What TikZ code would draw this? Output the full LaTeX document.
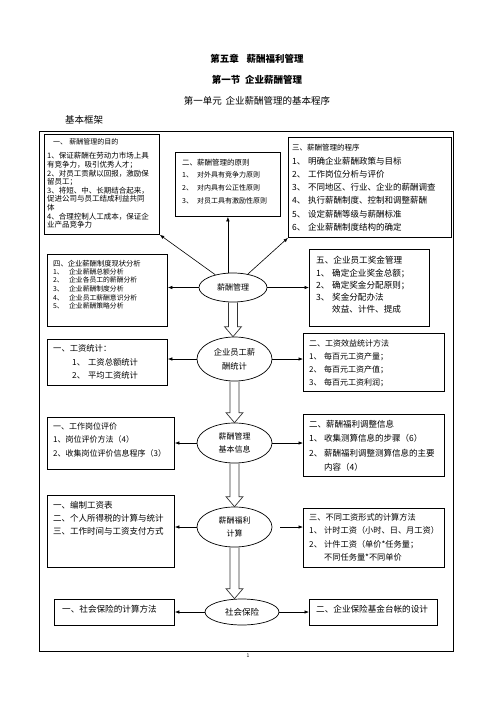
\documentclass[tikz,border=0pt]{standalone}
\usepackage{fontspec}
\setmainfont{Noto Sans CJK SC}
\usetikzlibrary{shapes.geometric,arrows.meta,calc}
\newcommand\fz[2]{\fontsize{#1}{#2}\selectfont}
\newcommand\nm[1]{\makebox[15pt][l]{#1}}
\newcommand\nn[1]{\makebox[16pt][l]{#1}}
\newcommand\harrow[2]{%
  \draw[hollow] ($(#1.south)+(-4.5,0)$) -- ($(#1.south |- #2.north)+(-4.5,-10)$)
    -- ($(#1.south |- #2.north)+(-8.5,-10)$) -- (#1.south |- #2.north)
    -- ($(#1.south |- #2.north)+(8.5,-10)$) -- ($(#1.south |- #2.north)+(4.5,-10)$)
    -- ($(#1.south)+(4.5,0)$);}
\begin{document}
\begin{tikzpicture}[x=1pt,y=-1pt,
  box/.style={draw, line width=0.8pt, rectangle, inner sep=0, anchor=north west},
  ell/.style={draw, line width=0.7pt, ellipse, inner sep=0, align=center},
  txt/.style={inner sep=0, anchor=north west, align=left},
  arr/.style={-{Latex[length=4.5pt,width=3.5pt]}, line width=0.6pt},
  hollow/.style={line width=0.7pt, draw=black!80}]
\useasboundingbox (0,0) rectangle (496,702);

% headings
\node[inner sep=0, font=\fz{9.5}{11}\bfseries] (h1) at (257,59) {第五章\hspace{0.8em}薪酬福利管理};
\node[inner sep=0, font=\fz{9.5}{11}\bfseries] (h2) at (257,80) {第一节\hspace{0.5em}企业薪酬管理};
\node[inner sep=0, font=\fz{9.5}{11}] (h3) at (257,101) {第一单元\hspace{0.4em}企业薪酬管理的基本程序};
\node[inner sep=0, anchor=west, font=\fz{9.5}{11}] (h4) at (65,120) {基本框架};

% outer frame
\node[box, minimum width=414, minimum height=520] (frame) at (39,131) {};

% top row boxes
\node[box, minimum width=115, minimum height=100] (b1) at (44,134) {};
\node[txt, font=\fz{7}{8.6}] (t1a) at (53,138.8) {一、\hspace{0.3em}薪酬管理的目的};
\node[txt, font=\fz{7.5}{8.6}] (t1b) at (47,152.3) {1、保证薪酬在劳动力市场上具\\有竞争力，吸引优秀人才；\\2、对员工贡献以回报，激励保\\留员工；\\3、将短、中、长期结合起来，\\促进公司与员工结成利益共同\\体\\4、合理控制人工成本，保证企\\业产品竞争力};

\node[box, minimum width=105, minimum height=64] (b2) at (175,152) {};
\node[txt, font=\fz{7.5}{13}] (t2a) at (182,158.6) {二、薪酬管理的原则};
\node[txt, font=\fz{7}{13}] (t2b) at (182,170.9) {\nm{1、}对外具有竞争力原则\\\nm{2、}对内具有公正性原则\\\nm{3、}对员工具有激励性原则};

\node[box, minimum width=163, minimum height=100] (b3) at (288,137) {};
\node[txt, font=\fz{7.5}{13}] (t3a) at (292,143.6) {三、薪酬管理的程序};
\node[txt, font=\fz{8.5}{13.1}] (t3b) at (292,157.2) {\nn{1、}明确企业薪酬政策与目标\\\nn{2、}工作岗位分析与评价\\\nn{3、}不同地区、行业、企业的薪酬调查\\\nn{4、}执行薪酬制度、控制和调整薪酬\\\nn{5、}设定薪酬等级与薪酬标准\\\nn{6、}企业薪酬制度结构的确定};

\node[box, minimum width=120, minimum height=72] (b4) at (47,254) {};
\node[txt, font=\fz{7.3}{8.6}] (t4a) at (53,259.7) {四、企业薪酬制度现状分析};
\node[txt, font=\fz{6.8}{8.6}] (t4b) at (53,268.3) {\nn{1、}企业薪酬总额分析\\\nn{2、}企业各员工的薪酬分析\\\nn{3、}企业薪酬制度分析\\\nn{4、}企业员工薪酬意识分析\\\nn{5、}企业薪酬策略分析};

\node[box, minimum width=120, minimum height=77] (b5) at (309,249) {};
\node[txt, font=\fz{8.6}{12.3}] (t5) at (316,256.2) {五、企业员工奖金管理\\\nn{1、}确定企业奖金总额；\\\nn{2、}确定奖金分配原则；\\\nn{3、}奖金分配办法\\\hspace*{16pt}效益、计件、提成};

\node[ell, minimum width=68, minimum height=29, font=\fz{8}{10}] (e1) at (233,287.5) {薪酬管理};

% row 2
\node[ell, minimum width=75, minimum height=44, font=\fz{8.3}{14}] (e2) at (234.5,359) {企业员工薪\\酬统计};
\node[box, minimum width=120, minimum height=46] (lb2) at (47,339) {};
\node[txt, font=\fz{8.3}{13.5}] (lt2) at (53,344.3) {一、工资统计：\\\hspace*{19pt}\nn{1、}工资总额统计\\\hspace*{19pt}\nn{2、}平均工资统计};
\node[box, minimum width=141, minimum height=58] (rb2) at (303,333) {};
\node[txt, font=\fz{8}{13}] (rt2) at (309,339.4) {二、工资效益统计方法\\\nm{1、}每百元工资产量；\\\nm{2、}每百元工资产值；\\\nm{3、}每百元工资利润；};

% row 3
\node[ell, minimum width=75, minimum height=40, font=\fz{8}{12.5}] (e3) at (234.5,443) {薪酬管理\\基本信息};
\node[box, minimum width=127, minimum height=52] (lb3) at (47,417) {};
\node[txt, font=\fz{8}{13.5}] (lt3) at (53,422.4) {一、工作岗位评价\\1、岗位评价方法（4）\\2、收集岗位评价信息程序（3）};
\node[box, minimum width=141, minimum height=62] (rb3) at (303,414) {};
\node[txt, font=\fz{8.5}{14.3}] (rt3) at (309,420.2) {二、薪酬福利调整信息\\\nm{1、}收集测算信息的步骤（6）\\\nm{2、}薪酬福利调整测算信息的主要\\\hspace*{15pt}内容（4）};

% row 4
\node[ell, minimum width=75, minimum height=40, font=\fz{8}{13}] (e4) at (234.5,527) {薪酬福利\\计算};
\node[box, minimum width=127, minimum height=72] (lb4) at (47,495) {};
\node[txt, font=\fz{8.5}{13}] (lt4) at (53,501.2) {一、编制工资表\\二、个人所得税的计算与统计\\三、工作时间与工资支付方式};
\node[box, minimum width=141, minimum height=59] (rb4) at (303,508) {};
\node[txt, font=\fz{8.2}{13.3}] (rt4) at (309,513.3) {三、不同工资形式的计算方法\\\nm{1、}计时工资（小时、日、月工资）\\\nm{2、}计件工资（单价*任务量；\\\hspace*{15pt}不同任务量*不同单价};

% row 5
\node[ell, minimum width=74, minimum height=26, font=\fz{8.5}{10}] (e5) at (242,612) {社会保险};
\node[box, minimum width=120, minimum height=26] (lb5) at (54,599) {};
\node[inner sep=0, anchor=west, font=\fz{8.6}{10}] (lt5) at (62,609) {一、社会保险的计算方法};
\node[box, minimum width=128, minimum height=26] (rb5) at (309,599) {};
\node[inner sep=0, anchor=west, font=\fz{8.6}{10}] (rt5) at (316,609) {二、企业保险基金台帐的设计};

\node[inner sep=0, font=\fz{5}{6}] (pg) at (248,656) {1};

% connectors
\draw[arr] (e1) -- (b1.south east);
\draw[arr] (e1.north -| b2.south) -- (b2.south);
\draw[arr] (e1) -- (b3.south west);
\draw[arr] (e1.west) -- (e1.west -| b4.east);
\draw[arr] (e1.east) -- (e1.east -| b5.west);

\draw[arr] (e2.west) -- (e2.west -| lb2.east);
\draw[arr] (e2.east) -- (e2.east -| rb2.west);
\draw[arr] (e3.west) -- (e3.west -| lb3.east);
\draw[arr] (e3.east) -- (e3.east -| rb3.west);
\draw[arr] (e4.west) -- (e4.west -| lb4.east);
\draw[arr, shorten <=8pt] (e4.east) -- (e4.east -| rb4.west);
\draw[arr] (e5.west) -- (e5.west -| lb5.east);
\draw[arr] (e5.east) -- (e5.east -| rb5.west);

\harrow{e1}{e2}
\harrow{e2}{e3}
\harrow{e3}{e4}
\harrow{e4}{e5}
\end{tikzpicture}
\end{document}
